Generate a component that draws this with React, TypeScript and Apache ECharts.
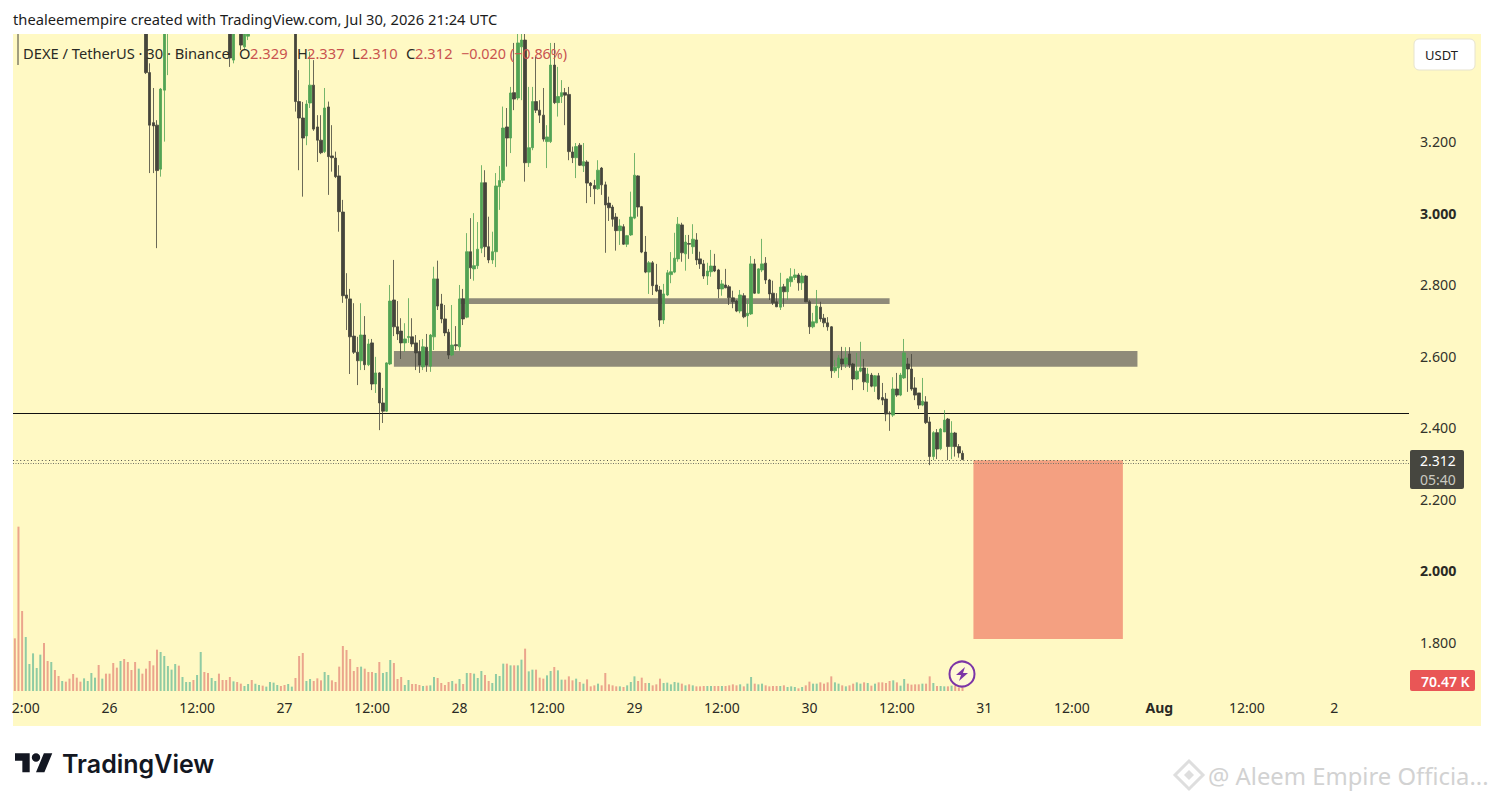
import React, { useEffect, useRef } from "react";
import * as echarts from "echarts";

type Row = [number, number, number, number] | null;
const hidden = (n: number): Row[] => Array(n).fill(null);

// 30 minute candles: [open, close, low, high]. Rows that lie above the visible price range are null.
const candlesA: Row[] = [
  [3.55,3.394,3.39,3.58],[3.394,3.247,3.113,3.42],[3.254,3.245,3.113,3.351],[3.247,3.12,2.903,3.261],
  [3.124,3.348,3.103,3.351],[3.345,3.56,3.201,3.58],[3.53,3.56,3.387,3.6],
];
const candlesB: Row[] = [
  [3.56,3.435,3.41,3.6],[3.429,3.56,3.42,3.6],[3.55,3.58,3.53,3.6],[3.56,3.471,3.457,3.6],
  [3.466,3.56,3.457,3.6],[3.496,3.56,3.485,3.6],
];
const candlesC: Row[] = [
  [3.56,3.313,3.285,3.6],[3.313,3.267,3.121,3.401],[3.267,3.211,3.047,3.312],[3.217,3.306,3.191,3.317],
  [3.309,3.359,3.295,3.452],[3.359,3.236,3.231,3.429],[3.242,3.205,3.144,3.275],[3.205,3.17,3.166,3.275],
  [3.173,3.295,3.169,3.351],[3.298,3.159,3.052,3.313],[3.161,3.156,3.117,3.247],[3.155,3.103,3.099,3.173],
  [3.105,3.005,2.949,3.135],[3.004,2.77,2.75,3.038],[2.772,2.763,2.674,2.833],[2.761,2.655,2.551,2.789],
  [2.657,2.612,2.607,2.749],[2.612,2.588,2.52,2.655],[2.588,2.66,2.562,2.749],[2.66,2.577,2.562,2.713],
  [2.577,2.635,2.573,2.649],[2.638,2.523,2.506,2.649],[2.523,2.554,2.498,2.599],[2.554,2.47,2.394,2.556],
  [2.47,2.447,2.414,2.512],[2.447,2.582,2.445,2.584],[2.579,2.755,2.576,2.8],[2.758,2.683,2.657,2.87],
  [2.683,2.663,2.646,2.755],[2.671,2.638,2.593,2.707],[2.638,2.649,2.613,2.693],[2.653,2.656,2.638,2.763],
  [2.655,2.635,2.627,2.707],[2.638,2.61,2.562,2.66],[2.613,2.576,2.554,2.646],[2.571,2.627,2.562,2.649],
  [2.626,2.576,2.557,2.663],[2.573,2.66,2.557,2.663],[2.655,2.817,2.618,2.851],[2.817,2.741,2.73,2.868],
  [2.747,2.705,2.693,2.775],[2.705,2.666,2.657,2.744],[2.668,2.604,2.593,2.677],[2.604,2.632,2.601,2.744],
  [2.633,2.63,2.618,2.685],[2.627,2.761,2.616,2.8],[2.761,2.705,2.688,2.789],[2.71,2.893,2.707,2.945],
  [2.893,2.848,2.817,2.987],[2.845,2.854,2.812,3.001],[2.854,2.9,2.845,2.976],[2.903,3.086,2.889,3.135],
  [3.086,2.907,2.878,3.121],[2.907,2.87,2.861,2.991],[2.87,2.893,2.859,2.949],[2.893,3.077,2.85,3.113],
  [3.075,3.092,3.01,3.133],[3.093,3.239,3.085,3.299],[3.242,3.211,3.131,3.295],[3.211,3.337,3.169,3.354],
  [3.338,3.32,3.289,3.477],[3.323,3.477,3.317,3.505],[3.466,3.485,3.317,3.505],[3.485,3.142,3.089,3.513],
  [3.142,3.184,3.13,3.354],[3.184,3.313,3.177,3.354],[3.313,3.289,3.281,3.438],[3.289,3.275,3.253,3.317],
  [3.275,3.208,3.201,3.351],[3.201,3.214,3.127,3.247],[3.201,3.415,3.197,3.477],[3.415,3.31,3.306,3.477],
  [3.31,3.327,3.271,3.41],[3.327,3.338,3.309,3.373],[3.338,3.331,3.247,3.351],[3.333,3.173,3.149,3.354],
  [3.172,3.156,3.141,3.187],[3.156,3.187,3.099,3.197],[3.191,3.135,3.133,3.197],[3.133,3.145,3.116,3.197],
  [3.144,3.085,3.029,3.149],[3.085,3.078,3.046,3.088],[3.078,3.069,3.026,3.094],[3.069,3.121,3.066,3.149],
  [3.127,3.08,3.052,3.13],[3.08,3.024,2.89,3.089],[3.029,3.016,2.979,3.047],[3.018,2.984,2.963,3.024],
  [2.99,2.952,2.896,3.001],[2.952,2.965,2.912,2.984],[2.963,2.914,2.912,2.97],[2.914,2.938,2.906,2.94],
  [2.94,2.99,2.937,3.061],[2.987,3.107,2.984,3.169],[3.105,3.018,2.991,3.107],[3.019,2.892,2.889,3.021],
  [2.892,2.836,2.833,2.937],[2.836,2.862,2.775,2.867],[2.862,2.798,2.772,2.867],[2.8,2.783,2.78,2.859],
  [2.786,2.702,2.683,2.797],[2.702,2.775,2.691,2.803],[2.772,2.834,2.769,2.842],[2.829,2.837,2.805,2.892],
  [2.836,2.875,2.833,2.946],[2.873,2.97,2.865,2.99],[2.968,2.89,2.865,2.974],[2.887,2.92,2.84,2.94],
  [2.916,2.914,2.873,2.94],[2.907,2.928,2.887,2.97],[2.926,2.87,2.856,2.945],[2.873,2.859,2.845,2.893],
  [2.859,2.825,2.817,2.87],[2.825,2.839,2.8,2.862],[2.837,2.853,2.823,2.898],[2.853,2.839,2.836,2.887],
  [2.842,2.789,2.763,2.845],[2.789,2.803,2.77,2.814],[2.8,2.792,2.791,2.845],[2.795,2.764,2.744,2.8],
  [2.764,2.753,2.735,2.784],[2.755,2.727,2.724,2.758],[2.727,2.772,2.721,2.786],[2.77,2.711,2.707,2.777],
  [2.714,2.721,2.683,2.758],[2.719,2.859,2.716,2.881],[2.859,2.777,2.775,2.873],[2.777,2.845,2.775,2.847],
  [2.842,2.859,2.836,2.929],[2.861,2.814,2.803,2.878],[2.814,2.775,2.758,2.817],[2.777,2.75,2.744,2.812],
  [2.753,2.739,2.738,2.777],[2.738,2.794,2.73,2.834],[2.795,2.781,2.739,2.803],[2.781,2.817,2.758,2.819],
  [2.809,2.823,2.795,2.847],[2.821,2.828,2.814,2.845],[2.828,2.806,2.784,2.833],[2.806,2.825,2.786,2.834],
  [2.825,2.753,2.752,2.828],[2.753,2.683,2.663,2.758],[2.683,2.697,2.679,2.722],[2.694,2.741,2.693,2.786],
  [2.738,2.705,2.697,2.753],[2.707,2.694,2.682,2.719],[2.694,2.683,2.672,2.71],[2.683,2.56,2.54,2.685],
  [2.56,2.57,2.554,2.59],[2.568,2.596,2.54,2.604],[2.593,2.579,2.562,2.627],[2.579,2.596,2.568,2.626],
  [2.607,2.576,2.568,2.626],[2.579,2.537,2.506,2.582],[2.537,2.559,2.534,2.61],[2.559,2.568,2.556,2.641],
  [2.568,2.529,2.506,2.593],[2.527,2.551,2.501,2.568],[2.548,2.517,2.514,2.554],[2.517,2.546,2.501,2.548],
  [2.546,2.481,2.478,2.554],[2.485,2.478,2.464,2.526],[2.481,2.439,2.419,2.498],[2.442,2.439,2.392,2.447],
  [2.436,2.509,2.431,2.542],[2.509,2.492,2.487,2.554],[2.492,2.548,2.489,2.554],[2.54,2.61,2.537,2.649],
  [2.579,2.565,2.501,2.596],[2.565,2.509,2.504,2.607],[2.512,2.492,2.478,2.542],[2.498,2.464,2.453,2.498],
  [2.464,2.475,2.461,2.54],[2.473,2.415,2.411,2.489],[2.417,2.32,2.296,2.431],[2.32,2.387,2.31,2.391],
  [2.387,2.341,2.313,2.397],[2.342,2.397,2.338,2.4],[2.389,2.422,2.389,2.45],[2.425,2.348,2.31,2.428],
  [2.348,2.386,2.313,2.419],[2.386,2.348,2.32,2.389],[2.348,2.33,2.317,2.355],[2.329,2.312,2.31,2.337],
];
const candles: Row[] = [...hidden(36), ...candlesA, ...hidden(16), ...candlesB, ...hidden(12), ...candlesC];

// Volume in thousands
const volumes: number[] = [
  1053,3287,1600,1080,540,753,460,727,960,600,580,420,300,200,187,247,340,267,187,253,200,360,267,520,247,347,347,560,467,600,
  640,580,420,580,447,347,447,600,513,827,780,700,500,427,540,507,280,180,180,220,320,780,380,360,260,200,347,220,220,280,
  193,180,147,100,140,220,147,120,107,87,180,167,120,100,120,140,87,260,700,760,200,240,200,253,213,380,320,213,180,487,
  900,820,640,400,480,487,447,380,380,360,580,360,380,620,560,240,280,120,220,140,140,120,100,107,113,280,260,160,120,180,
  200,147,240,140,360,360,347,260,400,320,200,160,340,300,547,547,513,513,513,627,847,393,427,427,267,247,313,400,480,413,
  227,227,293,213,247,180,147,233,93,113,147,113,360,133,113,93,93,80,113,180,293,200,267,160,160,113,133,247,160,167,
  133,180,167,147,113,133,113,93,93,100,100,100,100,100,100,100,113,133,113,133,93,147,280,147,133,147,113,93,100,100,
  100,113,80,93,80,53,80,113,187,147,147,173,147,173,293,173,147,113,93,113,147,173,147,173,160,107,147,173,173,160,
  200,213,173,107,240,147,127,133,133,147,147,293,160,100,100,93,93,107,113,67,70.47,
];
const earlySides = "RRRGGGGGRRGRRGRRRRRGGGGRGRRRRGRRRRGRRRRRGGGGGRGGGRGGRRGGRRRRGRRGGRGGRGGGGRRGGRRRGGRRRGGRRRRRRRRGRRRGRGGGRRRGGRRRGRGGRRRRGRGRGRGGGRRGGG";
const dayLabels: Record<number, string> = {
  3: "2:00", 26: "26", 50: "12:00", 74: "27", 98: "12:00", 122: "28", 146: "12:00", 170: "29",
  194: "12:00", 218: "30", 242: "12:00", 266: "31", 290: "12:00", 314: "Aug", 338: "12:00", 362: "2",
};
const priceTicks = ["1.800","2.000","2.200","2.400","2.600","2.800","3.000","3.200"];
const boldTicks = ["2.000","3.000"];
const boldDates = ["Aug"];
const categories: number[] = Array.from({ length: 383 }, (_, i) => i);
const zoneUpper = { from: 122, to: 240, high: 2.763, low: 2.747 };
const zoneLower = { from: 104, to: 308, high: 2.615, low: 2.571 };
const targetBox = { from: 263, to: 304, high: 2.31, low: 1.81 };
const levelLine = 2.439;
const lastPrice = 2.312;
const secondLine = 2.296;

const FONT = '"Noto Sans", sans-serif';
const DARK = "#45453b";
const GREEN = "#52a354";
const RED_V = "#eba58c";
const GREEN_V = "#8fcba3";
const RED_T = "#c9534f";
const LOGO = "M14 25H7V14H0V7h14v18zM28 25h-8l7.5-18h8L28 25zM24 11a4 4 0 1 1-8 0 4 4 0 0 1 8 0z";

function t(text: string, x: number, y: number, fill: string, fontSize = 14.7, extra: any = {}) {
  return {
    type: "text", x, y, z: 100, silent: true,
    style: { text, fill, fontSize, fontFamily: FONT, textVerticalAlign: "middle", verticalAlign: "middle", ...extra },
  };
}

export default function App() {
  const ref = useRef<HTMLDivElement>(null);
  useEffect(() => {
    if (!ref.current) return;
    echarts.graphic.registerShape("tvlogo", echarts.graphic.extendPath(LOGO as any, {}) as any);
    const chart = echarts.init(ref.current, undefined, { renderer: "svg" });
    const candleData = candles.map((r) => (r ? r : ["-", "-", "-", "-"]));
    const volumeData = volumes.map((v, i) => {
      const r = candles[i];
      const up = i < earlySides.length ? earlySides[i] === "G" : !!r && r[1] >= r[0];
      return { value: v, itemStyle: { color: up ? GREEN_V : RED_V } };
    });
    const zoneStyle = { color: "#8f8b79", opacity: 1 };
    chart.setOption({
      animation: false,
      backgroundColor: "#ffffff",
      grid: [
        { left: 13, top: 34, width: 1396, height: 680 },
        { left: 13, top: 521, width: 1396, height: 170 },
      ],
      xAxis: [
        { type: "category", gridIndex: 0, data: categories, show: false },
        {
          type: "category", gridIndex: 1, data: categories,
          axisLine: { show: false }, axisTick: { show: false }, splitLine: { show: false },
          axisLabel: {
            interval: (i: number) => dayLabels[i] !== undefined,
            formatter: (v: string) => {
              const s = dayLabels[Number(v)] ?? "";
              return boldDates.includes(s) ? `{b|${s}}` : s;
            },
            color: "#2a2a24", fontSize: 14, fontFamily: FONT, margin: 9, hideOverlap: false,
            rich: { b: { fontWeight: "bold", fontSize: 14, fontFamily: FONT, color: "#2a2a24" } },
          },
        },
      ],
      yAxis: [
        {
          type: "value", gridIndex: 0, position: "right", min: 1.6, max: 3.502, interval: 0.2,
          axisLine: { show: false }, axisTick: { show: false }, splitLine: { show: false },
          axisLabel: {
            margin: 11, color: "#33332b", fontSize: 14.2, fontFamily: FONT,
            showMinLabel: false, showMaxLabel: false,
            formatter: (v: number) => {
              const s = v.toFixed(3);
              if (!priceTicks.includes(s)) return "";
              return boldTicks.includes(s) ? `{b|${s}}` : s;
            },
            rich: { b: { fontWeight: "bold", fontSize: 14.2, fontFamily: FONT, color: "#2a2a24" } },
          },
        },
        { type: "value", gridIndex: 1, min: 0, max: 3400, show: false },
      ],
      series: [
        {
          type: "bar", name: "Volume", xAxisIndex: 1, yAxisIndex: 1, data: volumeData,
          barWidth: 2, z: 1,
        },
        {
          type: "candlestick", name: "DEXE / TetherUS", xAxisIndex: 0, yAxisIndex: 0, data: candleData,
          barWidth: 3, clip: true, z: 5,
          itemStyle: { color: GREEN, color0: DARK, borderColor: GREEN, borderColor0: DARK, borderWidth: 0.8 },
          markArea: {
            silent: true,
            data: [
              [
                { xAxis: zoneUpper.from, yAxis: zoneUpper.high, itemStyle: zoneStyle },
                { xAxis: zoneUpper.to, yAxis: zoneUpper.low },
              ],
              [
                { xAxis: zoneLower.from, yAxis: zoneLower.high, itemStyle: zoneStyle },
                { xAxis: zoneLower.to, yAxis: zoneLower.low },
              ],
              [
                { xAxis: targetBox.from, yAxis: targetBox.high, itemStyle: { color: "#f4a081", opacity: 1 } },
                { xAxis: targetBox.to, yAxis: targetBox.low },
              ],
            ],
          },
          markLine: {
            silent: true, symbol: "none", label: { show: false }, animation: false,
            data: [
              { yAxis: levelLine, lineStyle: { color: "#111111", width: 1, type: "solid" } },
              { yAxis: lastPrice, lineStyle: { color: "#55554a", width: 1, type: [1, 2.6] } },
              { yAxis: secondLine, lineStyle: { color: "#77776a", width: 1, type: [1, 1.5] } },
            ],
          },
        },
      ],
      graphic: [
        { type: "rect", z: -10, silent: true, shape: { x: 13, y: 34, width: 1468, height: 692 }, style: { fill: "#fff9c4" } },
        { type: "rect", z: 50, silent: true, shape: { x: 0, y: 0, width: 1494, height: 34 }, style: { fill: "#ffffff" } },
        t("thealeemempire created with TradingView.com, Jul 30, 2026 21:24 UTC", 13, 19, "#1c1c1c"),
        { type: "line", z: 100, silent: true, shape: { x1: 18, y1: 34, x2: 18, y2: 65 }, style: { stroke: "#45453b", lineWidth: 1 } },
        t("DEXE / TetherUS · 30 · Binance", 23, 53, "#2a2a24"),
        t("O", 239, 53, "#2a2a24"), t("2.329", 250, 53, RED_T),
        t("H", 297, 53, "#2a2a24"), t("2.337", 307, 53, RED_T),
        t("L", 352, 53, "#2a2a24"), t("2.310", 360, 53, RED_T),
        t("C", 406, 53, "#2a2a24"), t("2.312", 415, 53, RED_T),
        t("−0.020 (−0.86%)", 461, 53, RED_T, 14.4),
        { type: "rect", z: 100, silent: true, shape: { x: 1414, y: 39, width: 61, height: 31, r: 5 }, style: { fill: "#ffffff", stroke: "#e6e3cf", lineWidth: 1 } },
        t("USDT", 1425, 55, "#222222", 13),
        { type: "rect", z: 100, silent: true, shape: { x: 1410, y: 450, width: 54, height: 39, r: 2 }, style: { fill: "#46463f" } },
        t(lastPrice.toFixed(3), 1420, 460, "#ffffff", 14),
        t("05:40", 1420, 479, "#c9c9c0", 14),
        { type: "rect", z: 100, silent: true, shape: { x: 1410, y: 670, width: 65, height: 21, r: 2 }, style: { fill: "#e95656" } },
        t("70.47 K", 1421, 681, "#ffffff", 14, { fontWeight: 600 }),
        { type: "circle", z: 100, silent: true, shape: { cx: 962, cy: 674, r: 12.5 }, style: { fill: "rgba(255,250,225,0.55)", stroke: "#7c35a6", lineWidth: 2 } },
        { type: "polygon", z: 101, silent: true, shape: { points: [[965, 667], [956, 675], [961, 675], [959, 681], [968, 673], [963, 673]] }, style: { fill: "#7c35a6" } },
        { type: "tvlogo", x: 15, y: 746, scaleX: 1.05, scaleY: 1.05, z: 100, silent: true, style: { fill: "#131722" } },
        t("TradingView", 62, 764, "#131722", 25, { fontFamily: 'Inter, "Noto Sans", sans-serif', fontWeight: 600 }),
        { type: "polygon", z: 100, silent: true, shape: { points: [[1189, 761], [1203, 775], [1189, 789], [1175, 775]] }, style: { fill: "none", stroke: "#dedede", lineWidth: 3 } },
        { type: "polygon", z: 100, silent: true, shape: { points: [[1189, 770], [1194, 775], [1189, 780], [1184, 775]] }, style: { fill: "#dedede" } },
        t("@ Aleem Empire Officia...", 1208, 776, "#d2d2d2", 23.8),
      ],
    });
    return () => chart.dispose();
  }, []);
  return <div ref={ref} style={{ position: "absolute", left: 0, top: 0, width: 1494, height: 801 }} />;
}
